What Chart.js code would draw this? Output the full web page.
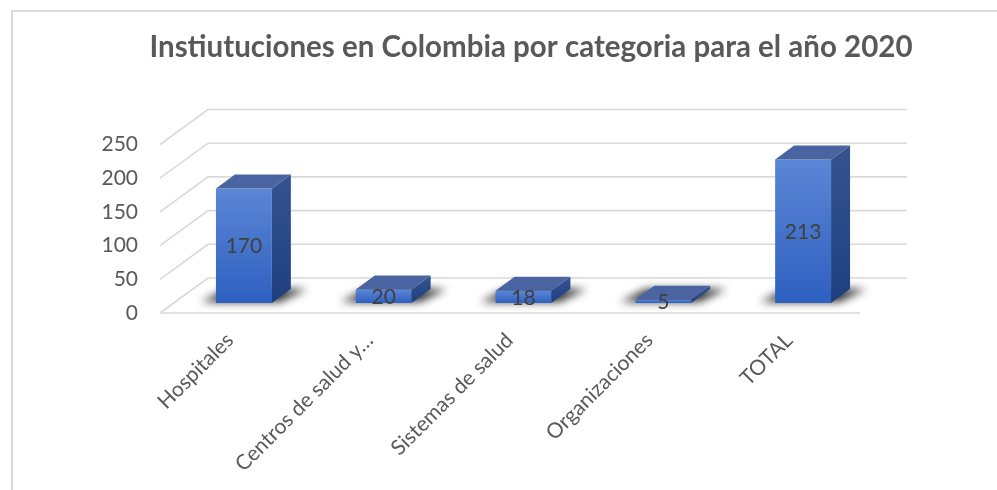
<!DOCTYPE html>
<html>
<head>
<meta charset="utf-8">
<script src="https://cdn.jsdelivr.net/npm/chart.js@4/dist/chart.umd.min.js"></script>
<style>
  html, body { margin: 0; padding: 0; background: #ffffff; }
  #wrap { width: 997px; height: 490px; position: relative; }
</style>
</head>
<body>
<div id="wrap"><canvas id="chart" width="997" height="490"></canvas></div>
<script>
// Institutions per category, 2020
const categories = ['Hospitales', 'Centros de salud y…', 'Sistemas de salud', 'Organizaciones', 'TOTAL'];
const counts = [170, 20, 18, 5, 213];
const yTicks = [0, 50, 100, 150, 200, 250];

// 3D projection offsets (pixels)
const WALL_DX = 48, WALL_DY = 35;      // depth of the floor / back wall
const BAR_OFF_X = 14, BAR_OFF_Y = 10;  // front face of the bars sits this far back
const BAR_DX = 19, BAR_DY = 14;        // depth of each bar

const FONT = "Lato, 'Open Sans', sans-serif";
const TEXT = '#595959';

function frontGradient(ctx, top, bottom) {
  const g = ctx.createLinearGradient(0, top, 0, bottom);
  g.addColorStop(0, '#5c86d6');
  g.addColorStop(1, '#2e60c0');
  return g;
}
function sideGradient(ctx, top, bottom) {
  const g = ctx.createLinearGradient(0, top, 0, bottom);
  g.addColorStop(0, '#35538f');
  g.addColorStop(1, '#203f80');
  return g;
}

const scene3d = {
  id: 'scene3d',
  beforeDraw(chart) {
    const ctx = chart.ctx;
    ctx.save();
    ctx.strokeStyle = '#d9d9d9';
    ctx.lineWidth = 2;
    ctx.strokeRect(12, 11, 1200, 700);
    ctx.restore();
  },
  beforeDatasetsDraw(chart) {
    const { ctx, chartArea: a, scales: { y } } = chart;
    ctx.save();
    ctx.strokeStyle = '#d9d9d9';
    ctx.lineWidth = 1.6;
    // side wall + back wall gridlines
    y.ticks.forEach(t => {
      const py = y.getPixelForValue(t.value);
      ctx.beginPath();
      ctx.moveTo(a.left, py);
      ctx.lineTo(a.left + WALL_DX, py - WALL_DY);
      ctx.lineTo(a.right + WALL_DX, py - WALL_DY);
      ctx.stroke();
    });
    // front edge of the floor
    ctx.beginPath();
    ctx.moveTo(a.left, a.bottom);
    ctx.lineTo(a.right + 1, a.bottom);
    ctx.stroke();

    // soft floor shadows under each bar
    const meta = chart.getDatasetMeta(0);
    ctx.filter = 'blur(4px)';
    ctx.fillStyle = 'rgba(0,0,0,0.8)';
    meta.data.forEach(bar => {
      const xL = bar.x - bar.width / 2 + BAR_OFF_X;
      const xR = bar.x + bar.width / 2 + BAR_OFF_X;
      const b = bar.base - BAR_OFF_Y;
      ctx.beginPath();
      ctx.moveTo(xL - 15, b - 1);
      ctx.lineTo(xR + 8, b - 1);
      ctx.lineTo(xR + BAR_DX + 16, b - BAR_DY);
      ctx.lineTo(xL + BAR_DX - 8, b - BAR_DY);
      ctx.closePath();
      ctx.fill();
    });
    ctx.filter = 'none';
    ctx.restore();

    // front faces are drawn by Chart.js, shifted into depth
    ctx.save();
    ctx.translate(BAR_OFF_X, -BAR_OFF_Y);
  },
  afterDatasetsDraw(chart) {
    const ctx = chart.ctx;
    ctx.restore();
    const meta = chart.getDatasetMeta(0);
    ctx.save();
    meta.data.forEach((bar, i) => {
      const xL = bar.x - bar.width / 2 + BAR_OFF_X;
      const xR = bar.x + bar.width / 2 + BAR_OFF_X;
      const top = bar.y - BAR_OFF_Y;
      const bot = bar.base - BAR_OFF_Y;
      // side face
      ctx.fillStyle = sideGradient(ctx, top - BAR_DY, bot);
      ctx.beginPath();
      ctx.moveTo(xR, top);
      ctx.lineTo(xR + BAR_DX, top - BAR_DY);
      ctx.lineTo(xR + BAR_DX, bot - BAR_DY);
      ctx.lineTo(xR, bot);
      ctx.closePath();
      ctx.fill();
      // top face
      ctx.fillStyle = '#4a64a2';
      ctx.beginPath();
      ctx.moveTo(xL, top);
      ctx.lineTo(xR, top);
      ctx.lineTo(xR + BAR_DX, top - BAR_DY);
      ctx.lineTo(xL + BAR_DX, top - BAR_DY);
      ctx.closePath();
      ctx.fill();
    });
    // value labels
    ctx.fillStyle = '#404040';
    ctx.font = '21px ' + FONT;
    ctx.textAlign = 'center';
    ctx.textBaseline = 'middle';
    meta.data.forEach((bar, i) => {
      const cx = bar.x + BAR_OFF_X;
      const cy = (bar.y + bar.base) / 2 - BAR_OFF_Y + 1;
      ctx.fillText(String(counts[i]), cx, cy);
    });
    ctx.restore();
  }
};

new Chart(document.getElementById('chart'), {
  type: 'bar',
  data: {
    labels: categories,
    datasets: [{
      data: counts,
      backgroundColor(context) {
        const chart = context.chart;
        const y = chart.scales && chart.scales.y;
        if (!chart.chartArea || !y || context.raw === undefined) return '#4472c4';
        return frontGradient(chart.ctx, y.getPixelForValue(context.raw), y.getPixelForValue(0));
      },
      borderWidth: 0,
      barPercentage: 0.4,
      categoryPercentage: 1.0,
      clip: false
    }]
  },
  plugins: [scene3d],
  options: {
    responsive: false,
    animation: false,
    events: [],
    layout: { padding: { left: 65, right: 0, top: 0, bottom: 0 } },
    plugins: {
      legend: { display: false },
      tooltip: { enabled: false },
      title: {
        display: true,
        text: 'Instiutuciones en Colombia por categoria para el año 2020',
        color: TEXT,
        font: { family: FONT, size: 29.5, weight: 'bold', lineHeight: 1.2 },
        padding: { top: 29.3, bottom: 79.8 }
      }
    },
    scales: {
      x: {
        grid: { display: false, drawTicks: false },
        border: { display: false },
        ticks: {
          color: TEXT,
          font: { family: FONT, size: 21 },
          minRotation: 45,
          maxRotation: 45,
          autoSkip: false,
          padding: 15
        },
        afterFit(scale) { scale.height = 177; }
      },
      y: {
        position: 'left',
        min: 0,
        max: 250,
        afterBuildTicks(scale) { scale.ticks = yTicks.map(v => ({ value: v })); },
        grid: { display: false, drawTicks: false },
        border: { display: false },
        ticks: {
          color: TEXT,
          font: { family: FONT, size: 21 },
          padding: 22
        },
        afterFit(scale) { scale.width = 95; }
      },
      yRight: {
        position: 'right',
        display: true,
        grid: { display: false, drawTicks: false },
        border: { display: false },
        ticks: { display: false },
        afterFit(scale) { scale.width = 138; }
      }
    }
  }
});
</script>
</body>
</html>
